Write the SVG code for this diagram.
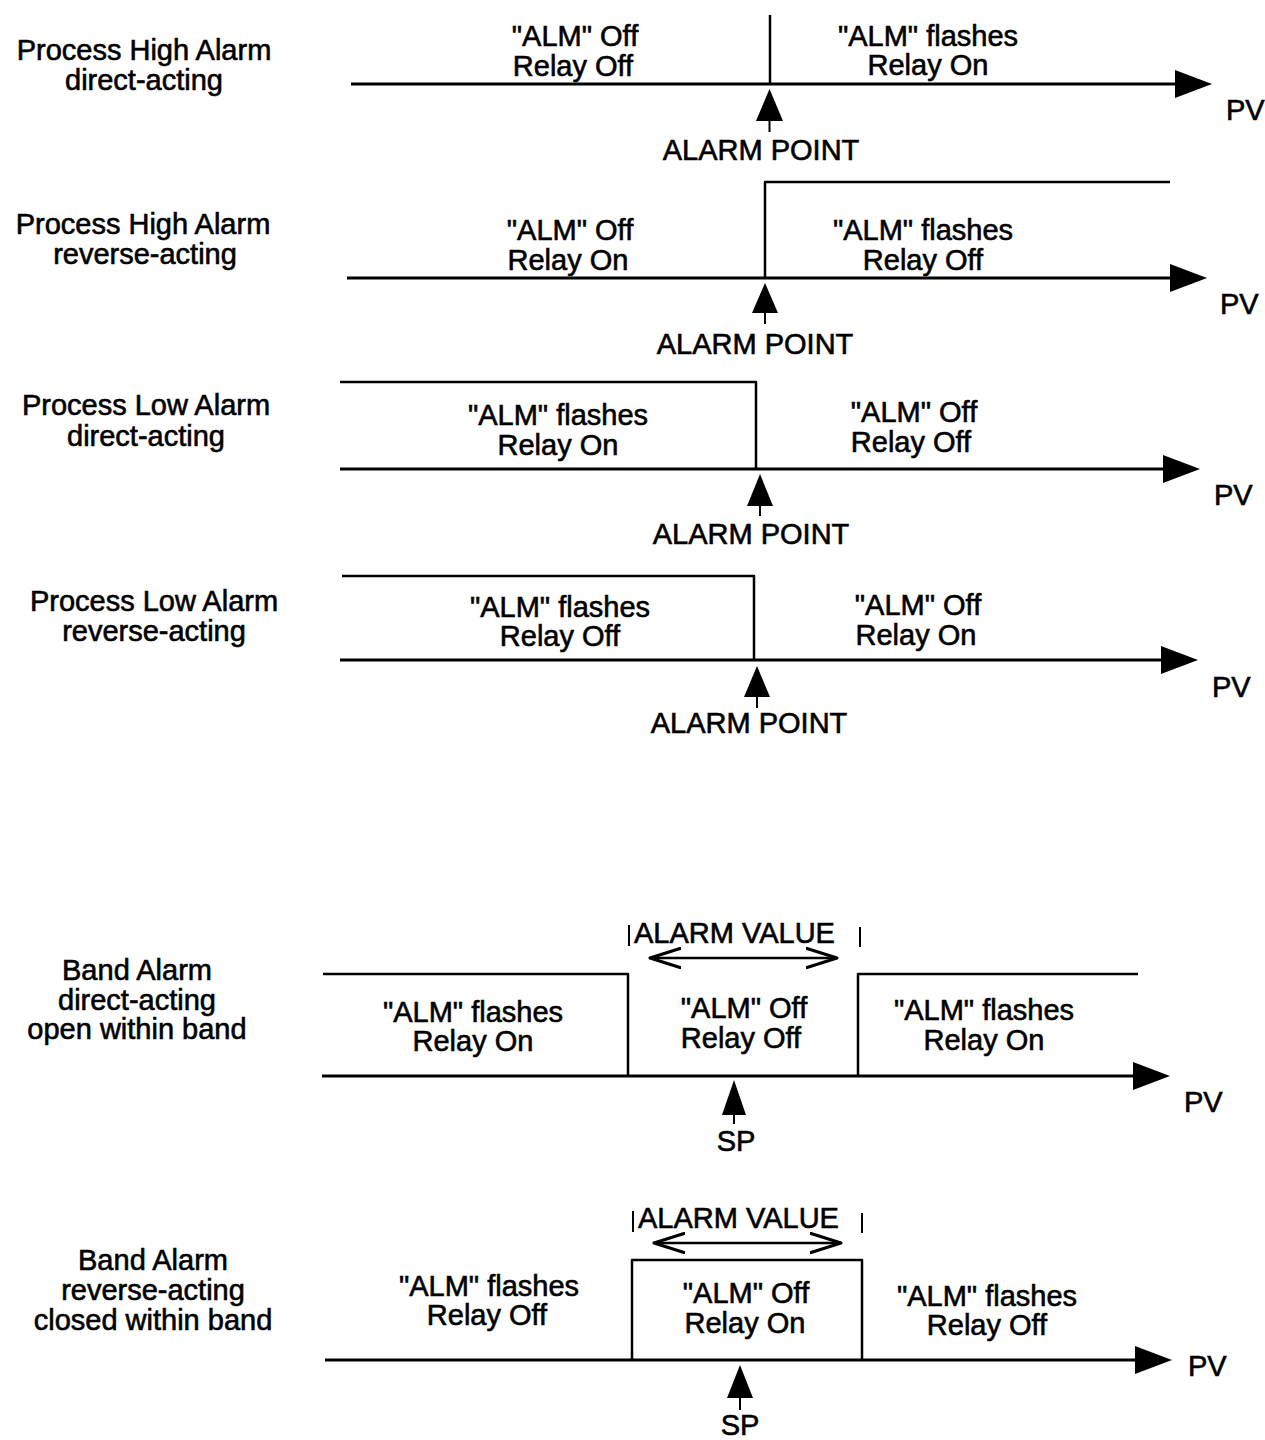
<svg xmlns="http://www.w3.org/2000/svg" width="1265" height="1440" viewBox="0 0 1265 1440">
<defs>
<style>
text{font-family:"Liberation Sans",Arial,sans-serif;font-size:29px;fill:#000;stroke:#000;stroke-width:0.6}
.c{text-anchor:middle}
.ax{stroke:#000;stroke-width:3;fill:none}
.st{stroke:#000;stroke-width:2.5;fill:none;stroke-linejoin:round}
.tk{stroke:#000;stroke-width:2;fill:none}
.dv{stroke:#000;stroke-width:2.5;fill:none}
.hd{fill:#000}
</style>
<marker id="ah" markerWidth="34" markerHeight="24" refX="31" refY="11" orient="auto-start-reverse" markerUnits="userSpaceOnUse">
<path d="M1,1.5 L31,11 L1,20.5" fill="none" stroke="#000" stroke-width="3" stroke-linecap="round" stroke-linejoin="round"/>
</marker>
</defs>
<rect width="1265" height="1440" fill="#fff"/>

<g id="connectors">
<!-- diagram 1 -->
<line class="ax" x1="351" y1="84" x2="1180" y2="84"/>
<polygon class="hd" points="1175,70 1212,84 1175,98"/>
<line class="st" x1="770" y1="15" x2="770" y2="84"/>
<!-- diagram 2 -->
<line class="ax" x1="347" y1="278" x2="1175" y2="278"/>
<polygon class="hd" points="1170,264 1207,278 1170,292"/>
<polyline class="st" points="765,278 765,182 1170,182"/>
<!-- diagram 3 -->
<line class="ax" x1="340" y1="469" x2="1168" y2="469"/>
<polygon class="hd" points="1163,455 1200,469 1163,483"/>
<polyline class="st" points="340,382 756,382 756,469"/>
<!-- diagram 4 -->
<line class="ax" x1="340" y1="660" x2="1166" y2="660"/>
<polygon class="hd" points="1161,646 1198,660 1161,674"/>
<polyline class="st" points="342,576 754,576 754,660"/>
<!-- diagram 5 -->
<line class="ax" x1="322" y1="1076" x2="1138" y2="1076"/>
<polygon class="hd" points="1133,1062 1170,1076 1133,1090"/>
<polyline class="st" points="323,974 628,974 628,1076"/>
<polyline class="st" points="858,1076 858,974 1138,974"/>
<line class="tk" x1="629" y1="925" x2="629" y2="946"/>
<line class="tk" x1="860" y1="927" x2="860" y2="947"/>
<line class="dv" x1="650" y1="958" x2="837" y2="958" marker-end="url(#ah)" marker-start="url(#ah)"/>
<!-- diagram 6 -->
<line class="ax" x1="325" y1="1360" x2="1140" y2="1360"/>
<polygon class="hd" points="1135,1346 1172,1360 1135,1374"/>
<polyline class="st" points="632,1360 632,1260 862,1260 862,1360"/>
<line class="tk" x1="633" y1="1211" x2="633" y2="1232"/>
<line class="tk" x1="862" y1="1213" x2="862" y2="1233"/>
<line class="dv" x1="654" y1="1243" x2="841" y2="1243" marker-end="url(#ah)" marker-start="url(#ah)"/>
</g>

<g id="pointer-arrows">
<polygon class="hd" points="769.5,89 783,121 756,121"/><line class="tk" x1="769.5" y1="120" x2="769.5" y2="132"/>
<polygon class="hd" points="765,283 778,313 752,313"/><line class="tk" x1="765" y1="312" x2="765" y2="324"/>
<polygon class="hd" points="760,474 773,506 747,506"/><line class="tk" x1="760" y1="505" x2="760" y2="516"/>
<polygon class="hd" points="757,666 770,697 744,697"/><line class="tk" x1="757" y1="696" x2="757" y2="708"/>
<polygon class="hd" points="734,1080 746,1115 722,1115"/><line class="tk" x1="734" y1="1114" x2="734" y2="1124"/>
<polygon class="hd" points="740,1365 753,1398 727,1398"/><line class="tk" x1="740" y1="1397" x2="740" y2="1410"/>
</g>

<g id="diagram1">
<text class="c" x="144" y="60">Process High Alarm</text>
<text class="c" x="144" y="90">direct-acting</text>
<text class="c" x="575" y="46">"ALM" Off</text>
<text class="c" x="573" y="76">Relay Off</text>
<text class="c" x="928" y="46">"ALM" flashes</text>
<text class="c" x="928" y="75">Relay On</text>
<text class="c" x="761" y="160">ALARM POINT</text>
<text x="1226" y="120">PV</text>
</g>

<g id="diagram2">
<text class="c" x="143" y="234">Process High Alarm</text>
<text class="c" x="145" y="264">reverse-acting</text>
<text class="c" x="570" y="240">"ALM" Off</text>
<text class="c" x="568" y="270">Relay On</text>
<text class="c" x="923" y="240">"ALM" flashes</text>
<text class="c" x="923" y="270">Relay Off</text>
<text class="c" x="755" y="354">ALARM POINT</text>
<text x="1220" y="314">PV</text>
</g>

<g id="diagram3">
<text class="c" x="146" y="415">Process Low Alarm</text>
<text class="c" x="146" y="446">direct-acting</text>
<text class="c" x="558" y="425">"ALM" flashes</text>
<text class="c" x="558" y="455">Relay On</text>
<text class="c" x="914" y="422">"ALM" Off</text>
<text class="c" x="911" y="452">Relay Off</text>
<text class="c" x="751" y="544">ALARM POINT</text>
<text x="1214" y="505">PV</text>
</g>

<g id="diagram4">
<text class="c" x="154" y="611">Process Low Alarm</text>
<text class="c" x="154" y="641">reverse-acting</text>
<text class="c" x="560" y="617">"ALM" flashes</text>
<text class="c" x="560" y="646">Relay Off</text>
<text class="c" x="918" y="615">"ALM" Off</text>
<text class="c" x="916" y="645">Relay On</text>
<text class="c" x="749" y="733">ALARM POINT</text>
<text x="1212" y="697">PV</text>
</g>

<g id="diagram5">
<text class="c" x="137" y="980">Band Alarm</text>
<text class="c" x="137" y="1010">direct-acting</text>
<text class="c" x="137" y="1039">open within band</text>
<text x="634" y="943">ALARM VALUE</text>
<text class="c" x="473" y="1022">"ALM" flashes</text>
<text class="c" x="473" y="1051">Relay On</text>
<text class="c" x="744" y="1018">"ALM" Off</text>
<text class="c" x="741" y="1048">Relay Off</text>
<text class="c" x="984" y="1020">"ALM" flashes</text>
<text class="c" x="984" y="1050">Relay On</text>
<text class="c" x="736" y="1151">SP</text>
<text x="1184" y="1112">PV</text>
</g>

<g id="diagram6">
<text class="c" x="153" y="1270">Band Alarm</text>
<text class="c" x="153" y="1300">reverse-acting</text>
<text class="c" x="153" y="1330">closed within band</text>
<text x="638" y="1228">ALARM VALUE</text>
<text class="c" x="489" y="1296">"ALM" flashes</text>
<text class="c" x="487" y="1325">Relay Off</text>
<text class="c" x="746" y="1303">"ALM" Off</text>
<text class="c" x="745" y="1333">Relay On</text>
<text class="c" x="987" y="1306">"ALM" flashes</text>
<text class="c" x="987" y="1335">Relay Off</text>
<text class="c" x="740" y="1435">SP</text>
<text x="1188" y="1376">PV</text>
</g>
</svg>
